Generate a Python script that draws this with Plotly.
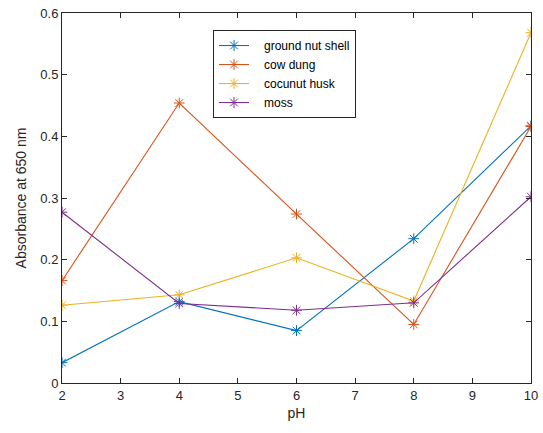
import plotly.graph_objects as go

ph = [2, 4, 6, 8, 10]
ground_nut_shell = [0.033, 0.132, 0.085, 0.234, 0.417]
cow_dung = [0.166, 0.454, 0.274, 0.095, 0.416]
coconut_husk = [0.126, 0.143, 0.203, 0.133, 0.568]
moss = [0.277, 0.129, 0.118, 0.130, 0.302]

series = [
    ("ground nut shell", ground_nut_shell, "#0072BD"),
    ("cow dung", cow_dung, "#D95319"),
    ("cocunut husk", coconut_husk, "#EDB120"),
    ("moss", moss, "#7E2F8E"),
]

fig = go.Figure()
for name, vals, color in series:
    fig.add_trace(go.Scatter(
        x=ph, y=vals, name="\u00a0\u00a0\u00a0" + name, mode="lines+markers",
        line=dict(color=color, width=1.1),
        marker=dict(symbol="asterisk-open", size=9, color=color,
                    line=dict(color=color, width=1)),
    ))

axis_common = dict(
    showgrid=False, zeroline=False, showline=True, linecolor="#262626",
    linewidth=1, mirror="ticks", ticks="inside", ticklen=5, automargin=False,
    tickcolor="#262626", tickfont=dict(family="Liberation Sans, Arial", size=13, color="#262626"),
)

fig.update_layout(
    width=543, height=433,
    margin=dict(l=62, r=12, t=13, b=50),
    paper_bgcolor="white", plot_bgcolor="white",
    font=dict(family="Liberation Sans, Arial", color="#262626"),
    xaxis=dict(range=[2, 10], dtick=1,
               title=dict(text="pH", font=dict(size=14), standoff=6),
               **axis_common),
    yaxis=dict(range=[0, 0.6], dtick=0.1, tickformat="~g",
               title=dict(text="Absorbance at 650 nm", font=dict(size=14), standoff=10),
               **axis_common),
    legend=dict(x=0.322, y=0.954, xanchor="left", yanchor="top",
                bgcolor="white", bordercolor="#262626", borderwidth=1,
                font=dict(size=12, color="black"),
                tracegroupgap=0, itemwidth=30),
    showlegend=True,
)

fig.write_html("out.html")
